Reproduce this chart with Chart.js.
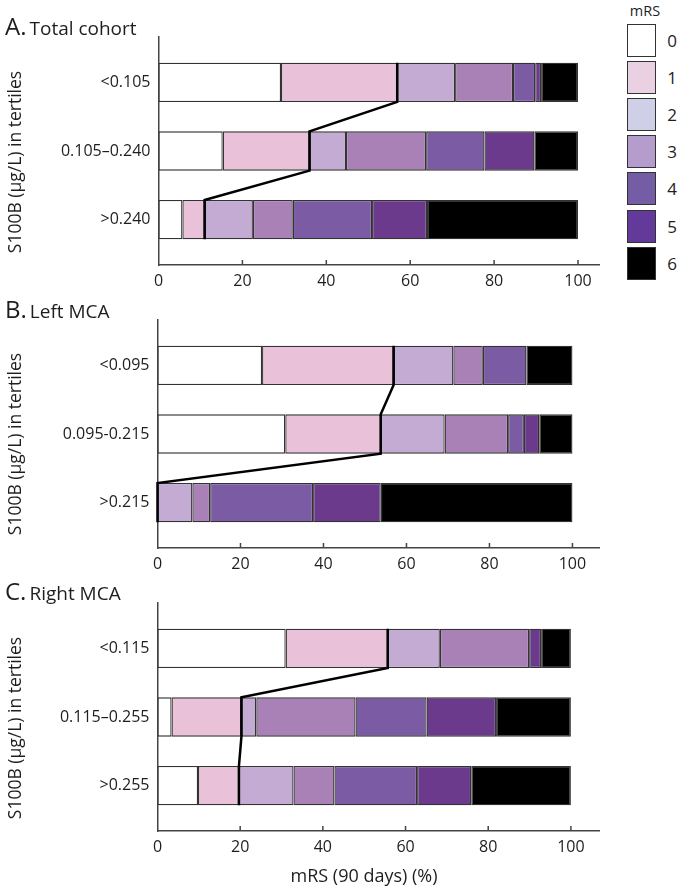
<!DOCTYPE html>
<html>
<head>
<meta charset="utf-8">
<script src="https://cdn.jsdelivr.net/npm/chart.js@4.4.0/dist/chart.umd.min.js"></script>
<style>
  body { margin: 0; background: #fff; font-family: "Open Sans", sans-serif; color: #1e1e1e; }
  #page { position: relative; width: 680px; height: 887px; overflow: hidden; }
  canvas { position: absolute; left: 0; }
  .ptitle { position: absolute; left: 5px; font-size: 19px; line-height: 24px; white-space: nowrap; }
  .ptitle span { font-size: 24px; margin-right: 3px; }
  .ytitle { position: absolute; left: 14px; font-size: 17.5px; white-space: nowrap;
            transform: translate(-50%, -50%) rotate(-90deg); }
  .xtitle { position: absolute; left: 364px; top: 875px; font-size: 18px; white-space: nowrap;
            transform: translate(-50%, -50%); }
  #legend { position: absolute; left: 620px; top: 0; width: 60px; height: 290px; }
  #legend .head { position: absolute; left: 25px; top: 10px; font-size: 14.5px; transform: translate(-50%, -50%); }
  #legend .sw { position: absolute; left: 7px; width: 27px; height: 31px; border: 1px solid #333; }
  #legend .num { position: absolute; left: 52px; font-size: 17px; transform: translate(-50%, -50%); }
</style>
</head>
<body>
<div id="page">
  <canvas id="chart-a" width="610" height="300" style="top:0px"></canvas>
  <canvas id="chart-b" width="610" height="300" style="top:283px"></canvas>
  <canvas id="chart-c" width="610" height="300" style="top:566px"></canvas>
  <div class="ptitle" style="top:14px"><span>A.</span>Total cohort</div>
  <div class="ptitle" style="top:297px"><span>B.</span>Left MCA</div>
  <div class="ptitle" style="top:579px"><span>C.</span>Right MCA</div>
  <div class="ytitle" style="top:162px">S100B (μg/L) in tertiles</div>
  <div class="ytitle" style="top:444px">S100B (μg/L) in tertiles</div>
  <div class="ytitle" style="top:728px">S100B (μg/L) in tertiles</div>
  <div class="xtitle">mRS (90 days) (%)</div>
  <div id="legend"></div>
</div>
<script>
const mrsLevels = ["0", "1", "2", "3", "4", "5", "6"];
const xTicks = [0, 20, 40, 60, 80, 100];

// A. Total cohort, % of patients per mRS grade (0..6)
const totalLabels = ["<0.105", "0.105–0.240", ">0.240"];
const totalLow = [29.2, 27.7, 13.8, 13.8, 5.3, 1.4, 8.8];
const totalMid = [15.3, 20.7, 8.7, 19.1, 13.9, 11.9, 10.4];
const totalHigh = [5.7, 5.3, 11.5, 9.5, 18.9, 13.1, 36.0];

// B. Left MCA
const leftLabels = ["<0.095", "0.095-0.215", ">0.215"];
const leftLow = [25.2, 31.7, 14.4, 7.1, 10.5, 0, 11.1];
const leftMid = [30.8, 23.0, 15.4, 15.3, 3.8, 3.7, 8.0];
const leftHigh = [0, 0, 8.4, 4.3, 24.8, 16.3, 46.2];

// C. Right MCA
const rightLabels = ["<0.115", "0.115–0.255", ">0.255"];
const rightLow = [31.0, 24.7, 12.6, 21.6, 0, 2.9, 7.2];
const rightMid = [3.4, 16.9, 3.6, 24.0, 17.2, 16.8, 18.1];
const rightHigh = [9.8, 9.9, 13.2, 9.9, 20.0, 13.1, 24.1];

const barColors = ["#ffffff", "#e9c2da", "#c3abd3", "#a981b6", "#7b5ba3", "#6b3a8c", "#000000"];
const legendColors = ["#ffffff", "#e9d0e3", "#cfcfe7", "#b49dcc", "#755da6", "#63399a", "#000000"];

// legend
const legend = document.getElementById("legend");
legend.innerHTML = '<div class="head">mRS</div>' + mrsLevels.map((lvl, i) => {
  const top = 24 + i * 37.1;
  return '<div class="sw" style="top:' + top + 'px;background:' + legendColors[i] + '"></div>' +
         '<div class="num" style="top:' + (top + 16) + 'px">' + lvl + '</div>';
}).join("");

// line joining the mRS 0-1 boundary across tertiles + small inward ticks on x axis
const connector = {
  id: "connector",
  afterDatasetsDraw(chart) {
    const ctx = chart.ctx;
    const meta = chart.getDatasetMeta(1);
    ctx.save();
    ctx.strokeStyle = "#000";
    ctx.lineWidth = 2.5;
    ctx.beginPath();
    meta.data.forEach((bar, i) => {
      const h = bar.height / 2;
      if (i === 0) ctx.moveTo(bar.x, bar.y - h);
      else ctx.lineTo(bar.x, bar.y - h);
      ctx.lineTo(bar.x, bar.y + h);
    });
    ctx.stroke();

    const xs = chart.scales.x;
    const bottom = chart.chartArea.bottom;
    ctx.strokeStyle = "#444";
    ctx.lineWidth = 1.5;
    xTicks.forEach(v => {
      if (v === 0) return;
      const px = xs.getPixelForValue(v);
      ctx.beginPath();
      ctx.moveTo(px, bottom);
      ctx.lineTo(px, bottom - 5);
      ctx.stroke();
    });
    ctx.restore();
  }
};

function makePanel(id, labels, rows, xMax, left) {
  return new Chart(document.getElementById(id), {
    type: "bar",
    data: {
      datasets: mrsLevels.map((lvl, k) => ({
        label: "mRS " + lvl,
        data: rows.map((r, i) => ({ x: r[k], y: i })),
        backgroundColor: barColors[k],
        borderColor: "#333333",
        borderWidth: 1.3,
        borderSkipped: false,
        categoryPercentage: 1,
        barPercentage: 0.572,
      })),
    },
    options: {
      indexAxis: "y",
      responsive: false,
      animation: false,
      layout: { padding: { top: 37, right: 11, left: 0, bottom: 0 } },
      plugins: { legend: { display: false }, tooltip: { enabled: false } },
      scales: {
        x: {
          type: "linear",
          stacked: true,
          min: 0,
          max: xMax,
          grid: { display: false, drawTicks: false },
          border: { color: "#444", width: 1.5 },
          ticks: { color: "#1e1e1e", padding: 7, font: { family: "Open Sans", size: 16 } },
          afterBuildTicks: s => { s.ticks = xTicks.map(v => ({ value: v })); },
          afterFit: s => { s.height = 35; },
        },
        y: {
          type: "linear",
          stacked: true,
          reverse: true,
          offset: false,
          bounds: "data",
          min: -0.66,
          max: 2.66,
          grid: { display: false, drawTicks: false },
          border: { color: "#444", width: 1.5 },
          ticks: {
            color: "#1e1e1e",
            padding: 8,
            font: { family: "Open Sans", size: 16 },
            callback: (v, i) => labels[i],
          },
          afterBuildTicks: s => { s.ticks = labels.map((_, i) => ({ value: i })); },
          afterFit: s => { s.width = left; },
        },
      },
    },
    plugins: [connector],
  });
}

makePanel("chart-a", totalLabels, [totalLow, totalMid, totalHigh], 105, 158.5);
makePanel("chart-b", leftLabels, [leftLow, leftMid, leftHigh], 106.4, 157.5);
makePanel("chart-c", rightLabels, [rightLow, rightMid, rightHigh], 106.8, 157.5);
</script>
</body>
</html>
